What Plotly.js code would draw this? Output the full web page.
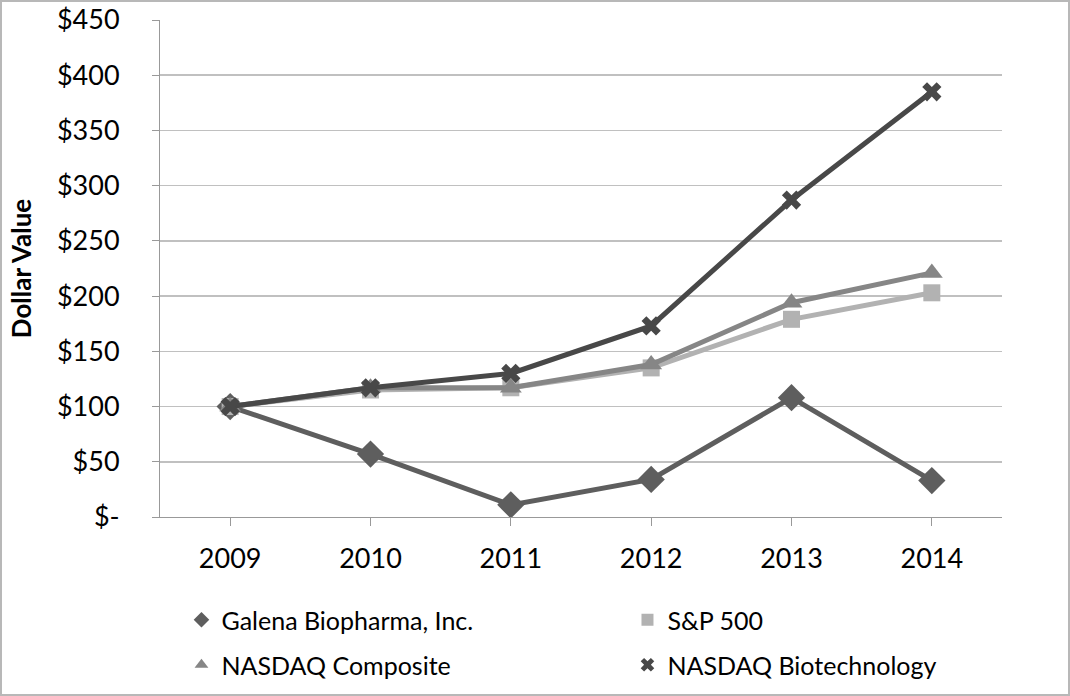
<!DOCTYPE html>
<html><head><meta charset="utf-8">
<script src="https://cdn.plot.ly/plotly-3.0.1.min.js"></script>
<style>html,body{margin:0;padding:0;background:#fff}#chart{width:1066px;height:692px;border:2px solid #b8b8b8}</style>
</head><body><div id="chart"></div>
<script>
const years = ['2009','2010','2011','2012','2013','2014'];
const galena = [100, 57, 11, 34, 108, 33];
const sp500 = [100, 115, 117, 135, 179, 203];
const nasdaqComp = [100, 117, 117, 138, 194, 221];
const nasdaqBio = [100, 117, 130, 173, 287, 385];
const yTickVals = [0,50,100,150,200,250,300,350,400,450];
const yTickText = ['$-','$50','$100','$150','$200','$250','$300','$350','$400','$450'];

const series = [
  {name:'Galena Biopharma, Inc.', y:galena, color:'#5e5e5e', symbol:'diamond', size:21, legend:'legend'},
  {name:'S&P 500', y:sp500, color:'#b2b2b2', symbol:'square', size:17, legend:'legend2'},
  {name:'NASDAQ Composite', y:nasdaqComp, color:'#868686', symbol:'triangle-up', size:19, legend:'legend3'},
  {name:'NASDAQ Biotechnology', y:nasdaqBio, color:'#484848', symbol:'x', size:17, legend:'legend4'}
];
const traces = [];
series.forEach(s => {
  traces.push({x:years, y:s.y, type:'scatter', mode:'lines+markers', name:s.name, showlegend:false,
    line:{color:s.color, width:5}, marker:{symbol:s.symbol, size:s.size, color:s.color}});
});
series.forEach(s => {
  traces.push({x:[null], y:[null], type:'scatter', mode:'markers', name:s.name, legend:s.legend,
    marker:{symbol:s.symbol, size:s.size, color:s.color}});
});
const fam = 'Lato, "Open Sans", sans-serif';
const font = {family:fam, size:27, color:'#000'};
const legendBase = {orientation:'h', xanchor:'left', yanchor:'middle', yref:'container',
  font:{family:fam, size:25, color:'#000'}, bgcolor:'rgba(0,0,0,0)', itemsizing:'constant'};
const col1 = 0.0255, col2 = 0.5552, row1 = 0.1069, row2 = 0.0419;
const layout = {
  width:1066, height:692,
  margin:{l:158, r:66, t:18, b:177},
  paper_bgcolor:'#fff', plot_bgcolor:'#fff',
  font:font,
  showlegend:true,
  xaxis:{type:'category', range:[-0.5,5.5], showgrid:false, showline:true, linecolor:'#999', linewidth:1,
    ticks:'outside', ticklen:8, tickcolor:'#999', tickson:'labels', ticklabelstandoff:10, tickfont:font, zeroline:false, fixedrange:true},
  yaxis:{range:[0,450], tickvals:yTickVals, ticktext:yTickText, showgrid:true, gridcolor:'#c0c0c0', gridwidth:1.5,
    showline:true, linecolor:'#999', linewidth:1, ticks:'outside', ticklen:7, tickcolor:'#999', ticklabelstandoff:27,
    tickfont:font, zeroline:false, automargin:false,
    title:{text:'<b>Dollar Value</b>', font:{family:fam, size:26, color:'#000'}, standoff:17}},
  legend:Object.assign({}, legendBase, {x:col1, y:row1}),
  legend2:Object.assign({}, legendBase, {x:col2, y:row1}),
  legend3:Object.assign({}, legendBase, {x:col1, y:row2}),
  legend4:Object.assign({}, legendBase, {x:col2, y:row2})
};
Plotly.newPlot('chart', traces, layout, {displayModeBar:false, staticPlot:true});
</script></body></html>
